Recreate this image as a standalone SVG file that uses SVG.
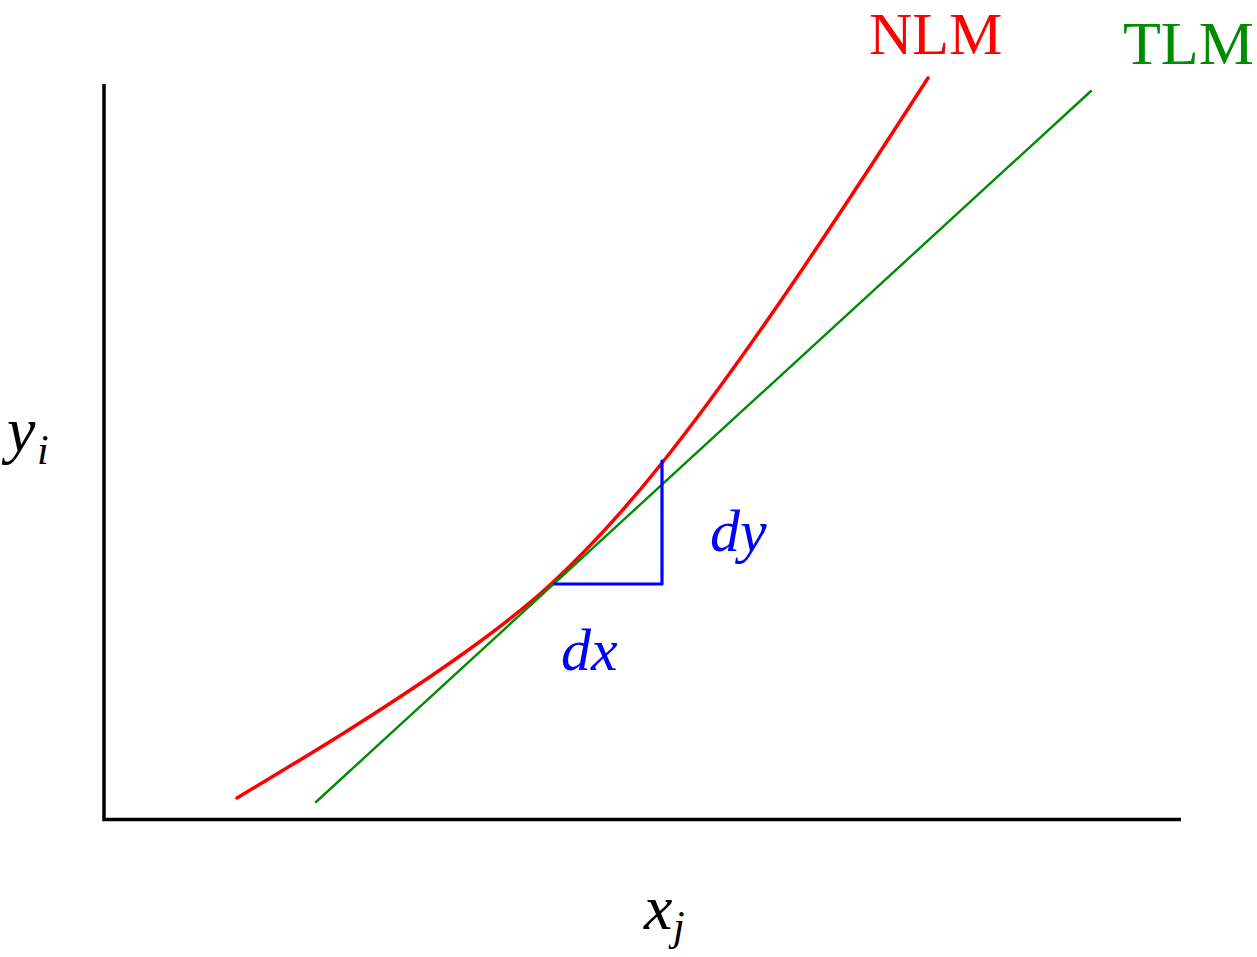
<svg xmlns="http://www.w3.org/2000/svg" width="1257" height="957" viewBox="0 0 1257 957">
<style>
.lbl{font-family:"Liberation Serif","Times New Roman",serif}
.it{font-style:italic}
</style>
<rect width="1257" height="957" fill="#fff"/>
<g id="axes" fill="none" stroke="#000" stroke-width="3.5">
<polyline points="104,84 104,819.5 1181,819.5"/>
</g>
<g id="connectors" fill="none" stroke-linecap="round" stroke-linejoin="round">
<path id="nlm-curve" stroke="#ff0000" stroke-width="3.5" d="M237,798 C308,755.4 379,712.7 450,663 C483.3,639.7 516.7,615.6 550,585 C587.3,550.7 624.7,509.6 662,463 C701.3,413.8 740.7,359 780,302 C829.3,230.5 878.7,154.4 928,78"/>
<line id="tlm-line" x1="316" y1="802" x2="1091" y2="91" stroke="#008c00" stroke-width="2.4"/>
<polyline id="triangle" stroke="#0000ff" stroke-width="3.2" points="555,584 662,584 662,461"/>
</g>
<g id="labels" class="lbl">
<text x="869" y="54" font-size="60" fill="#ff0000">NLM</text>
<text x="1123" y="64" font-size="62" fill="#008c00">TLM</text>
<text x="710" y="551" font-size="60" fill="#0000ff" class="it">dy</text>
<text x="561" y="670" font-size="60" fill="#0000ff" class="it">dx</text>
<text x="7" y="451" font-size="64" fill="#000" class="it">y</text>
<text x="37" y="464" font-size="42" fill="#000" class="it">i</text>
<text x="644" y="929" font-size="64" fill="#000" class="it">x</text>
<text x="673" y="940" font-size="42" fill="#000" class="it">j</text>
</g>
</svg>
